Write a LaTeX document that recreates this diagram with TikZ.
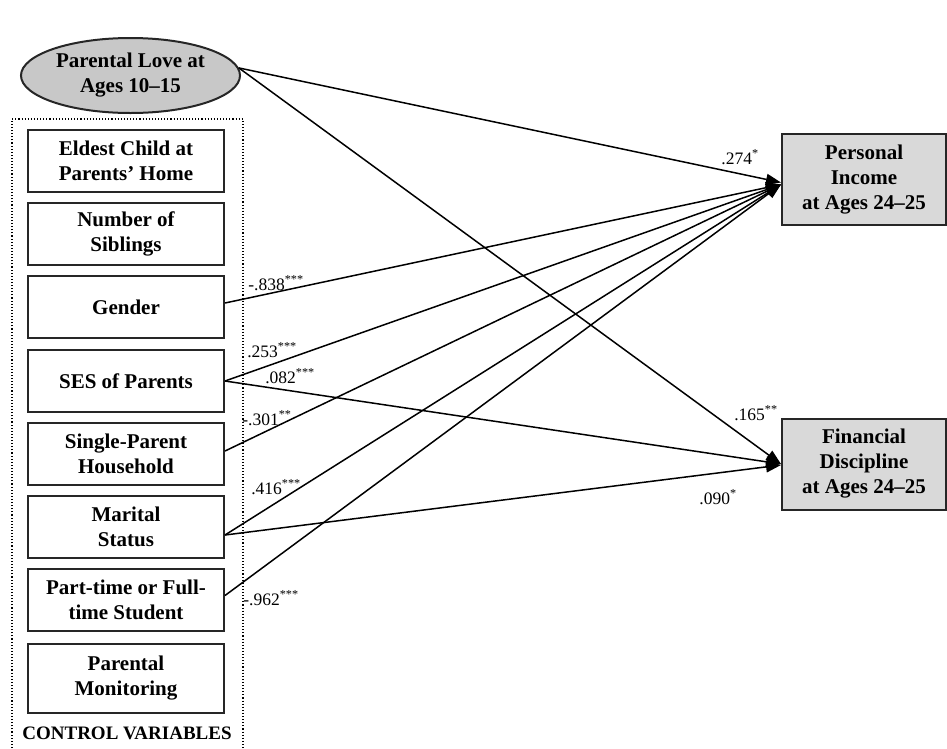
\documentclass[tikz,border=0pt]{standalone}
\usepackage{fontspec}
\setmainfont{Liberation Serif}
\usetikzlibrary{arrows.meta,shapes.geometric}
\definecolor{ellgray}{RGB}{200,200,200}
\definecolor{boxgray}{RGB}{217,217,217}
\begin{document}
\begin{tikzpicture}[x=1pt,y=-1pt,
  ctrl/.style={draw=black!85,line width=2pt,minimum width=196pt,minimum height=62pt,inner sep=0pt,
    align=center,font=\fontsize{21}{25}\selectfont\bfseries},
  outbox/.style={draw=black!85,fill=boxgray,line width=2pt,minimum width=164pt,minimum height=91pt,inner sep=0pt,
    align=center,font=\fontsize{21}{25}\selectfont\bfseries},
  path/.style={line width=1.5pt,-{Triangle[length=15pt,width=11pt]}},
  coef/.style={font=\fontsize{17.5}{20}\selectfont,inner sep=0pt}]
\useasboundingbox (0,0) rectangle (947,748);
% control frame
\draw[dotted,line width=1.1pt] (12,748) -- (12,119) -- (243,119) -- (243,748);
\node[draw=black!85,fill=ellgray,line width=2pt,ellipse,minimum width=219pt,minimum height=75pt,inner sep=0pt,
  align=center,font=\fontsize{21}{25}\selectfont\bfseries] (love) at (130.5,75.5) {Parental Love at\\Ages 10–15};
\node[ctrl] (eld) at (126,160.5) {Eldest Child at\\Parents’ Home};
\node[ctrl] (sib) at (126,234) {Number of\\Siblings};
\node[ctrl] (gen) at (126,307) {Gender};
\node[ctrl] (ses) at (126,381) {SES of Parents};
\node[ctrl] (sgl) at (126,454) {Single-Parent\\Household};
\node[ctrl] (mar) at (126,527) {Marital\\Status};
\node[ctrl] (stu) at (126,599.5) {Part-time or Full-\\time Student};
\node[ctrl,minimum height=69pt] (mon) at (126,678) {Parental\\Monitoring};
\node[font=\fontsize{19}{22}\selectfont\bfseries,inner sep=0pt] (cv) at (127,733) {CONTROL VARIABLES};
\node[outbox] (inc) at (864,179.5) {Personal\\Income\\at Ages 24–25};
\node[outbox] (fin) at (864,464) {Financial\\Discipline\\at Ages 24–25};
% paths
\draw[path] (love.4) -- ([yshift=-3pt]inc.west);
\draw[path] (love.4) -- (fin.west);
\draw[path] ([yshift=4pt]gen.east) -- ([yshift=-5pt]inc.west);
\draw[path] (ses.east) -- ([yshift=-5pt]inc.west);
\draw[path] (ses.east) -- (fin.west);
\draw[path] ([yshift=3pt]sgl.east) -- ([yshift=-5pt]inc.west);
\draw[path] ([yshift=-8pt]mar.east) -- ([yshift=-5pt]inc.west);
\draw[path] ([yshift=-8pt]mar.east) -- ([yshift=-1pt]fin.west);
\draw[path] ([yshift=4pt]stu.east) -- ([yshift=-5pt]inc.west);
% coefficients
\node[coef] (c1) at (740,157) {.274\textsuperscript{*}};
\node[coef] (c2) at (276,283) {-.838\textsuperscript{***}};
\node[coef] (c3) at (272,350) {.253\textsuperscript{***}};
\node[coef] (c4) at (290,376) {.082\textsuperscript{***}};
\node[coef] (c5) at (267,418) {-.301\textsuperscript{**}};
\node[coef] (c6) at (276,487) {.416\textsuperscript{***}};
\node[coef] (c7) at (271,598) {-.962\textsuperscript{***}};
\node[coef] (c8) at (756,413) {.165\textsuperscript{**}};
\node[coef] (c9) at (718,497) {.090\textsuperscript{*}};
\end{tikzpicture}
\end{document}
